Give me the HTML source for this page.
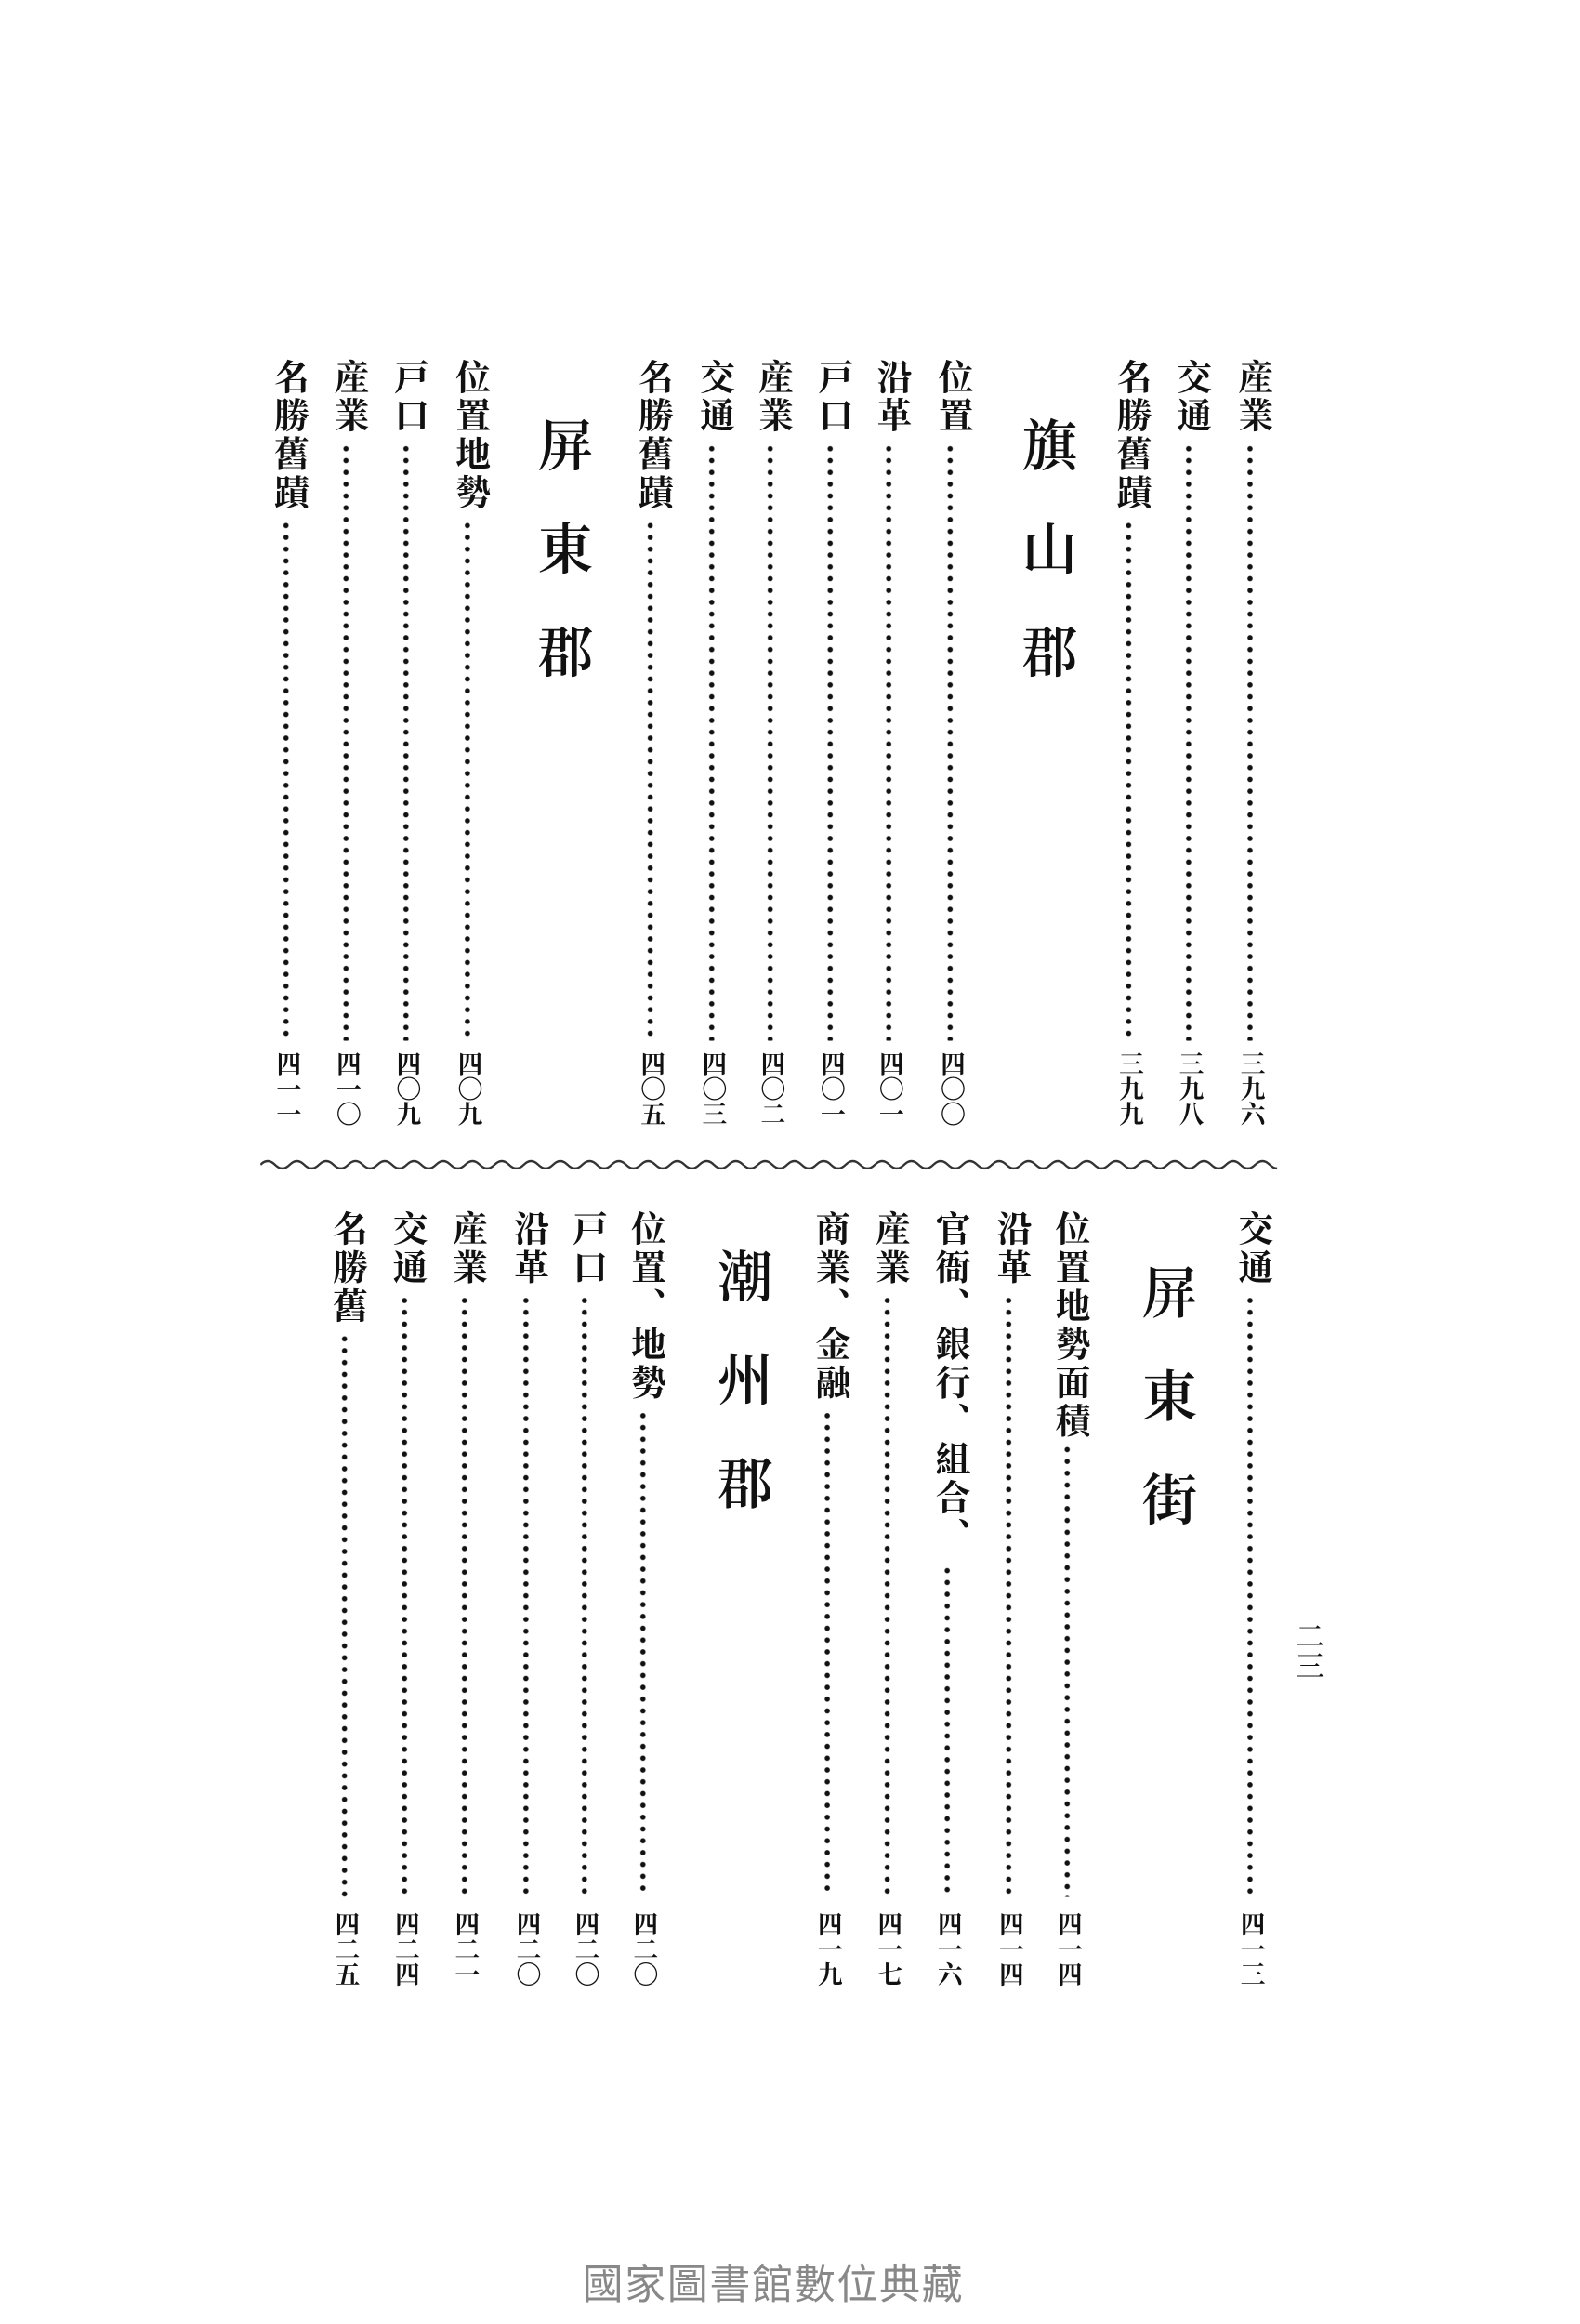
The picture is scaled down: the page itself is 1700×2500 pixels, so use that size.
<!DOCTYPE html>
<html><head><meta charset="utf-8">
<style>
html,body{margin:0;padding:0;background:#fff;}
body{width:1700px;height:2500px;overflow:hidden;position:relative;}
#w{position:absolute;left:0;top:0;width:1080px;height:1574px;transform-origin:0 0;transform:scale(1.574,1.588);font-family:"Liberation Serif","Noto Serif CJK SC","Noto Sans CJK SC",serif;color:#111;}
.e{position:absolute;writing-mode:vertical-rl;font-size:24px;line-height:24px;font-weight:bold;letter-spacing:2px;}
.h{position:absolute;writing-mode:vertical-rl;font-size:38px;line-height:38px;letter-spacing:32px;font-weight:600;}
.d{position:absolute;width:5px;margin-left:-1px;background:radial-gradient(circle,#111 1.5px,transparent 2px) 0 0/5px 8px repeat-y;}
.n{position:absolute;writing-mode:vertical-rl;font-size:17px;line-height:17px;font-weight:bold;}
.f{position:absolute;left:398px;top:1526px;font-size:28px;color:#888;font-family:"Liberation Sans","Noto Sans CJK TC",sans-serif;letter-spacing:1px;}
</style></head><body><div id="w">
<div class="e" style="left:843px;top:243px">産業</div><div class="d" style="left:853px;top:300px;height:405px"></div><div class="n" style="left:846px;top:712px">三九六</div>
<div class="e" style="left:801px;top:243px">交通</div><div class="d" style="left:811px;top:300px;height:405px"></div><div class="n" style="left:804px;top:712px">三九八</div>
<div class="e" style="left:760px;top:243px">名勝舊蹟</div><div class="d" style="left:770px;top:352px;height:353px"></div><div class="n" style="left:763px;top:712px">三九九</div>
<div class="h" style="left:694px;top:282px">旗山郡</div>
<div class="e" style="left:638px;top:243px">位置</div><div class="d" style="left:648px;top:300px;height:405px"></div><div class="n" style="left:641px;top:712px">四〇〇</div>
<div class="e" style="left:596px;top:243px">沿革</div><div class="d" style="left:606px;top:300px;height:405px"></div><div class="n" style="left:599px;top:712px">四〇一</div>
<div class="e" style="left:556px;top:243px">戸口</div><div class="d" style="left:566px;top:300px;height:405px"></div><div class="n" style="left:559px;top:712px">四〇一</div>
<div class="e" style="left:515px;top:243px">産業</div><div class="d" style="left:525px;top:300px;height:405px"></div><div class="n" style="left:518px;top:712px">四〇二</div>
<div class="e" style="left:475px;top:243px">交通</div><div class="d" style="left:485px;top:300px;height:405px"></div><div class="n" style="left:478px;top:712px">四〇三</div>
<div class="e" style="left:433px;top:243px">名勝舊蹟</div><div class="d" style="left:443px;top:352px;height:353px"></div><div class="n" style="left:436px;top:712px">四〇五</div>
<div class="h" style="left:363px;top:282px">屏東郡</div>
<div class="e" style="left:308px;top:243px">位置地勢</div><div class="d" style="left:318px;top:352px;height:353px"></div><div class="n" style="left:311px;top:712px">四〇九</div>
<div class="e" style="left:266px;top:243px">戸口</div><div class="d" style="left:276px;top:300px;height:405px"></div><div class="n" style="left:269px;top:712px">四〇九</div>
<div class="e" style="left:225px;top:243px">産業</div><div class="d" style="left:235px;top:300px;height:405px"></div><div class="n" style="left:228px;top:712px">四一〇</div>
<div class="e" style="left:184px;top:243px">名勝舊蹟</div><div class="d" style="left:194px;top:352px;height:353px"></div><div class="n" style="left:187px;top:712px">四一一</div>
<svg style="position:absolute;left:178px;top:782px" width="695" height="14"><path d="M0 7 q5 -5 10 0 t10 0 t10 0 t10 0 t10 0 t10 0 t10 0 t10 0 t10 0 t10 0 t10 0 t10 0 t10 0 t10 0 t10 0 t10 0 t10 0 t10 0 t10 0 t10 0 t10 0 t10 0 t10 0 t10 0 t10 0 t10 0 t10 0 t10 0 t10 0 t10 0 t10 0 t10 0 t10 0 t10 0 t10 0 t10 0 t10 0 t10 0 t10 0 t10 0 t10 0 t10 0 t10 0 t10 0 t10 0 t10 0 t10 0 t10 0 t10 0 t10 0 t10 0 t10 0 t10 0 t10 0 t10 0 t10 0 t10 0 t10 0 t10 0 t10 0 t10 0 t10 0 t10 0 t10 0 t10 0 t10 0 t10 0 t10 0 t10 0 t10 0 t10 0 t10 0 t10 0" fill="none" stroke="#333" stroke-width="1.5"/></svg>
<div class="e" style="left:843px;top:820px">交通</div><div class="d" style="left:853px;top:877px;height:408px"></div><div class="n" style="left:846px;top:1295px">四一三</div>
<div class="h" style="left:776px;top:856px">屏東街</div>
<div class="e" style="left:718px;top:820px">位置地勢面積</div><div class="d" style="left:728px;top:978px;height:307px"></div><div class="n" style="left:721px;top:1295px">四一四</div>
<div class="e" style="left:678px;top:820px">沿革</div><div class="d" style="left:688px;top:877px;height:408px"></div><div class="n" style="left:681px;top:1295px">四一四</div>
<div class="e" style="left:636px;top:820px">官衙、銀行、組合、</div><div class="d" style="left:646px;top:1060px;height:225px"></div><div class="n" style="left:639px;top:1295px">四一六</div>
<div class="e" style="left:595px;top:820px">産業</div><div class="d" style="left:605px;top:877px;height:408px"></div><div class="n" style="left:598px;top:1295px">四一七</div>
<div class="e" style="left:554px;top:820px">商業、金融</div><div class="d" style="left:564px;top:955px;height:330px"></div><div class="n" style="left:557px;top:1295px">四一九</div>
<div class="h" style="left:486px;top:845px">潮州郡</div>
<div class="e" style="left:428px;top:820px">位置、地勢</div><div class="d" style="left:438px;top:955px;height:330px"></div><div class="n" style="left:431px;top:1295px">四二〇</div>
<div class="e" style="left:388px;top:820px">戸口</div><div class="d" style="left:398px;top:877px;height:408px"></div><div class="n" style="left:391px;top:1295px">四二〇</div>
<div class="e" style="left:348px;top:820px">沿革</div><div class="d" style="left:358px;top:877px;height:408px"></div><div class="n" style="left:351px;top:1295px">四二〇</div>
<div class="e" style="left:306px;top:820px">産業</div><div class="d" style="left:316px;top:877px;height:408px"></div><div class="n" style="left:309px;top:1295px">四二一</div>
<div class="e" style="left:265px;top:820px">交通</div><div class="d" style="left:275px;top:877px;height:408px"></div><div class="n" style="left:268px;top:1295px">四二四</div>
<div class="e" style="left:224px;top:820px">名勝舊</div><div class="d" style="left:234px;top:903px;height:382px"></div><div class="n" style="left:227px;top:1295px">四二五</div>
<div class="n" style="left:884px;top:1098px;font-size:20px;font-weight:normal">二三</div>
<div class="f">國家圖書館數位典藏</div>
</div></body></html>
